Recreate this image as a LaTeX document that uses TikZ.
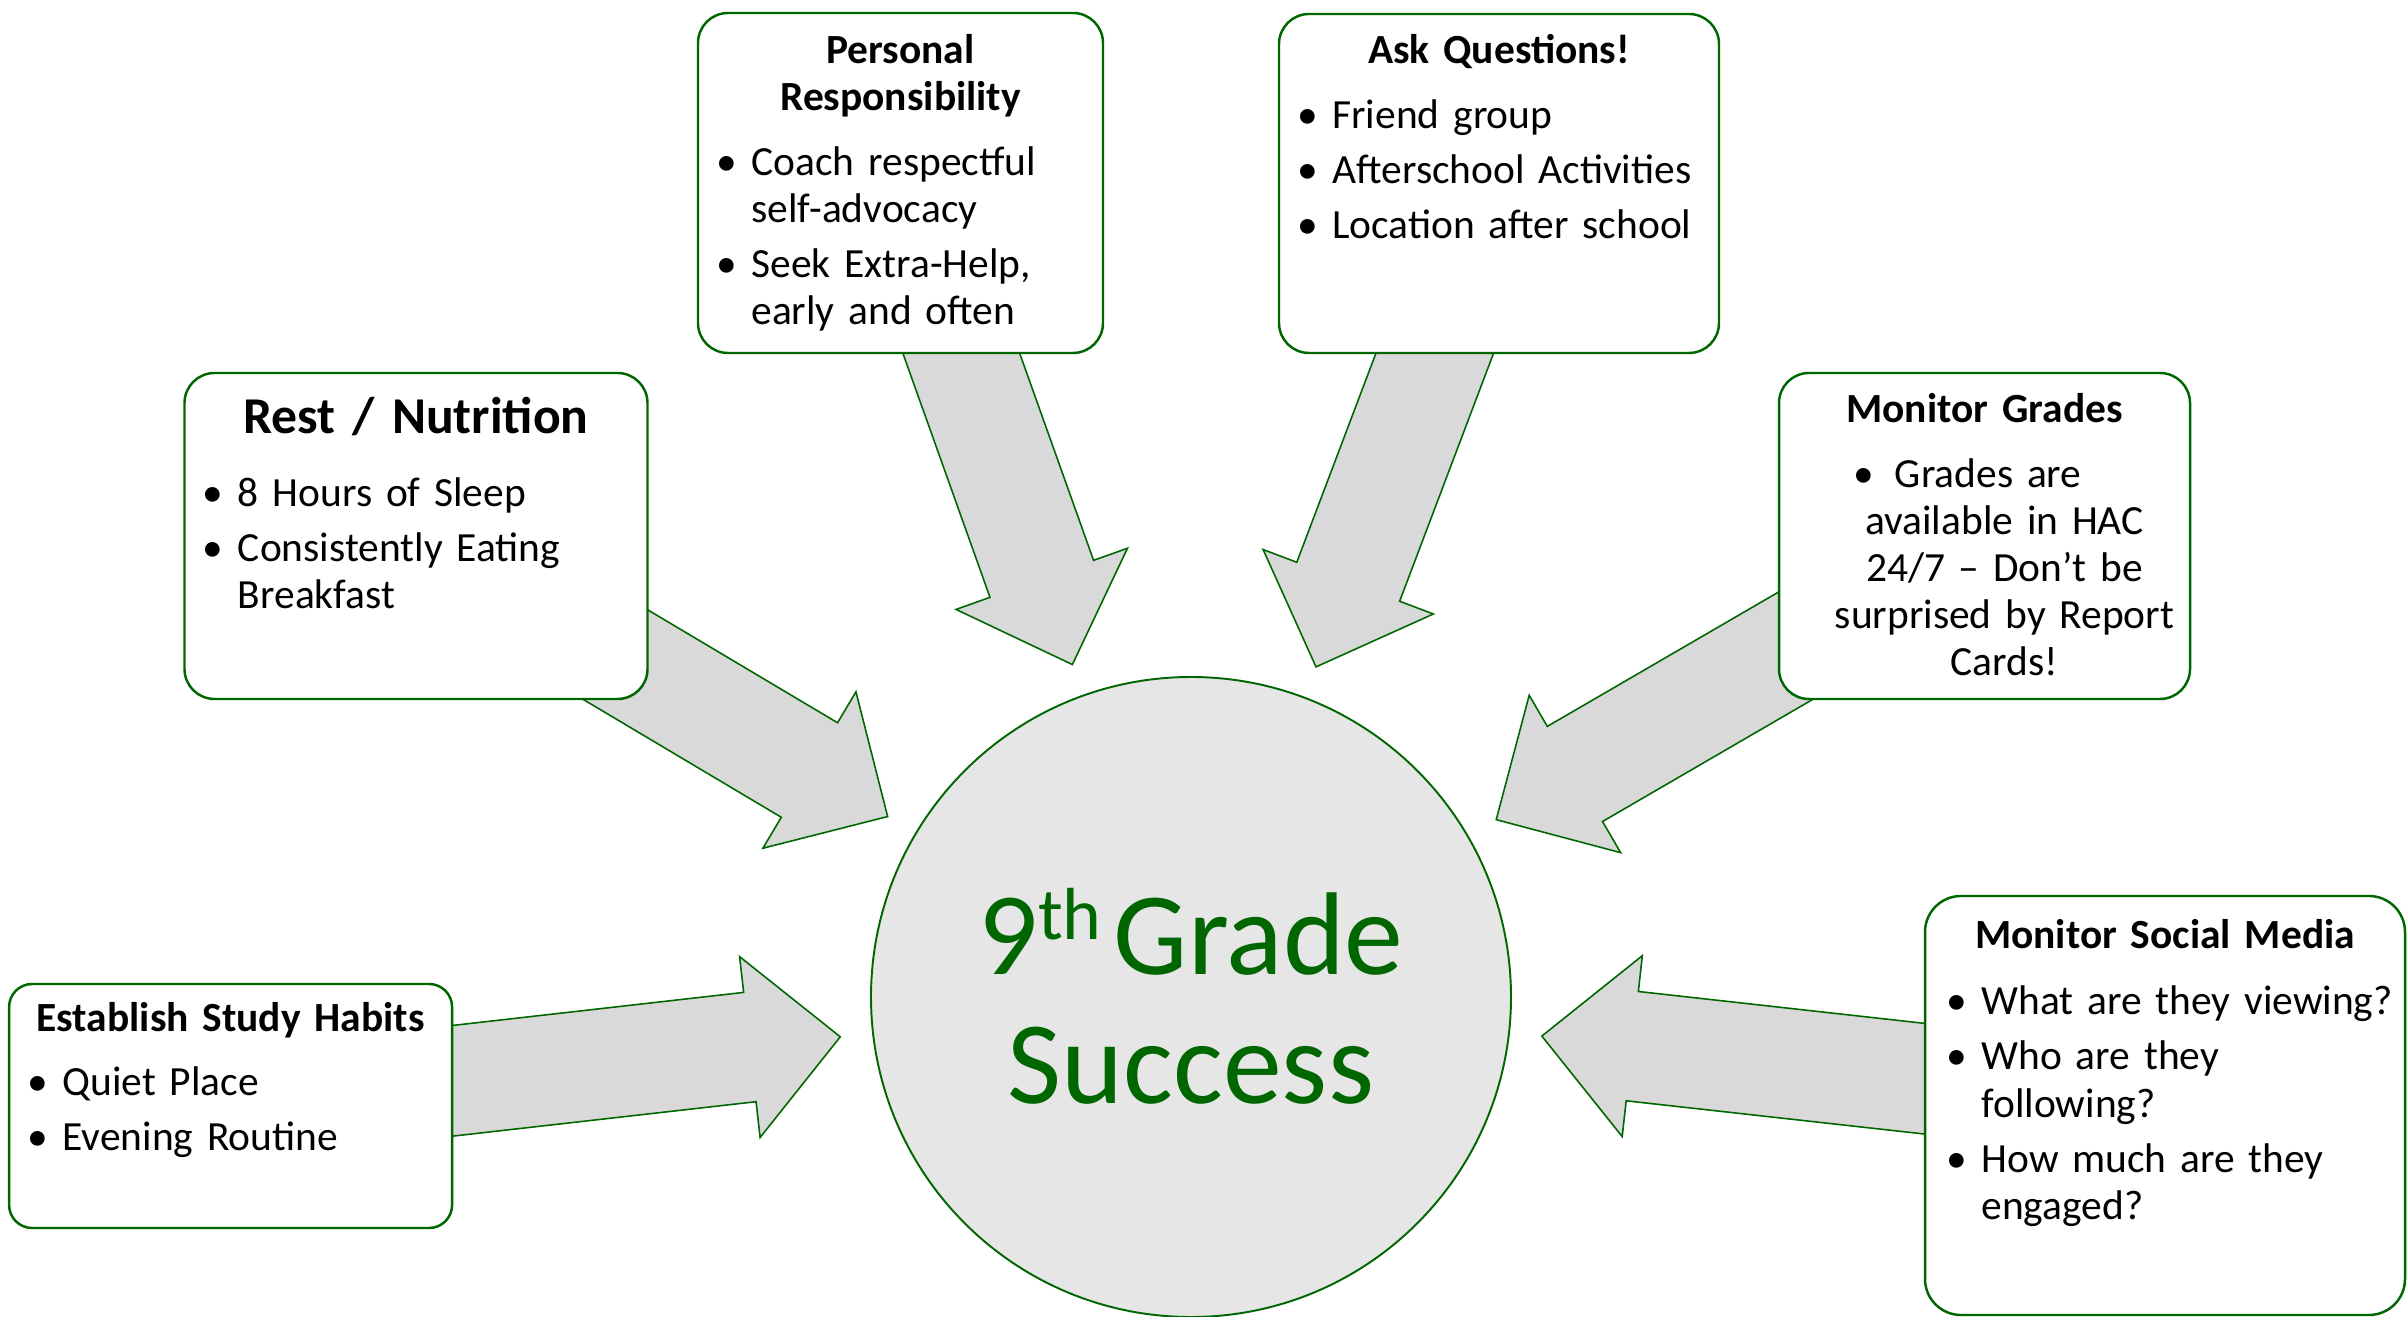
\documentclass[tikz,border=0pt]{standalone}
\usepackage{fontspec}
\setmainfont{Carlito}
\usetikzlibrary{calc,backgrounds}
\definecolor{leafgreen}{RGB}{0,102,0}
\definecolor{arrowgray}{HTML}{D9D9D9}
\definecolor{hubgray}{HTML}{E6E6E6}
\newcommand{\itm}[1]{\noindent\hangindent=0.35cm\hangafter=1\makebox[0.35cm][l]{\textbullet}#1\par\vspace{2.3pt}}
\newcommand{\bigarrow}[2]{%
  \coordinate (#2-h) at ($(#2)!0.91cm!(#1.center)$);
  \draw[fatarrow] (#2) -- ($(#2-h)!0.91cm!90:(#2)$) -- ($(#2-h)!0.55cm!90:(#2)$)
    -- ($(#1.center)!0.55cm!90:(#2)$) -- ($(#1.center)!0.55cm!-90:(#2)$)
    -- ($(#2-h)!0.55cm!-90:(#2)$) -- ($(#2-h)!0.91cm!-90:(#2)$) -- cycle;}

\begin{document}
\begin{tikzpicture}[
    card/.style={draw=leafgreen, line width=0.7pt, fill=white, rounded corners=0.3cm, inner sep=0pt},
    hub/.style={circle, draw=leafgreen, line width=0.55pt, fill=hubgray, inner sep=0pt, minimum size=6.4cm},
    fatarrow/.style={draw=leafgreen, line width=0.45pt, fill=arrowgray},
    head/.style={font=\fontsize{11.8}{13.4}\selectfont\bfseries, text width=4.6cm, align=center, inner sep=0pt, anchor=base},
    items/.style={font=\fontsize{11.8}{13.4}\selectfont, text width=#1, align=left, inner sep=0pt, anchor=base west}
  ]
  \useasboundingbox (0,0) rectangle (24.07,13.16);
  \node[card, minimum width=4.05cm, minimum height=3.40cm] (resp) at (9.005,11.33) {};
  \node[card, minimum width=4.40cm, minimum height=3.39cm] (quest) at (14.99,11.325) {};
  \node[card, minimum width=4.63cm, minimum height=3.26cm] (rest) at (4.16,7.80) {};
  \node[card, minimum width=4.11cm, minimum height=3.26cm] (grades) at (19.845,7.80) {};
  \node[card, minimum width=4.43cm, minimum height=2.44cm, rounded corners=0.23cm] (study) at (2.306,2.10) {};
  \node[card, minimum width=4.80cm, minimum height=4.19cm, rounded corners=0.36cm] (social) at (21.65,2.105) {};
  \node[hub] (hub) at (11.91,3.19) {};

  \foreach \b in {resp,quest,rest,grades,study,social}{
    \coordinate (\b-tip) at ($(hub.center)!3.53cm!(\b.center)$);
  }
  \begin{scope}[on background layer]
    \foreach \b in {resp,quest,rest,grades,study,social}{
      \bigarrow{\b}{\b-tip}
    }
  \end{scope}

  \node[head] (resp-title) at ($(resp.north)+(0,-0.52)$) {Personal\\Responsibility};
  \node[items=3.8cm] (resp-list) at ($(resp.north west)+(0.19,-1.634)$)
    {\itm{Coach respectful\newline self-advocacy}\itm{Seek Extra-Help,\newline early and often}};
  \node[head] (quest-title) at ($(quest.north)+(0,-0.51)$) {Ask Questions!};
  \node[items=4.2cm] (quest-list) at ($(quest.north west)+(0.19,-1.153)$)
    {\itm{Friend group}\itm{Afterschool Activities}\itm{Location after school}};
  \node[head, font=\fontsize{14.7}{17}\selectfont\bfseries] (rest-title) at ($(rest.north)+(0,-0.62)$) {Rest / Nutrition};
  \node[items=4.4cm] (rest-list) at ($(rest.north west)+(0.19,-1.347)$)
    {\itm{8 Hours of Sleep}\itm{Consistently Eating\newline Breakfast}};
  \node[head] (grades-title) at ($(grades.north)+(0,-0.51)$) {Monitor Grades};
  \node[head, font=\fontsize{11.8}{13.4}\selectfont, text width=4cm] (grades-list) at ($(grades.north)+(0.2,-1.153)$)
    {\textbullet\enspace Grades are\hspace*{0.74cm}\mbox{}\\available in HAC\\24/7 – Don’t be\\surprised by Report\\Cards!};
  \node[head] (study-title) at ($(study.north)+(0,-0.49)$) {Establish Study Habits};
  \node[items=4.2cm] (study-list) at ($(study.north west)+(0.19,-1.13)$)
    {\itm{Quiet Place}\itm{Evening Routine}};
  \node[head] (social-title) at ($(social.north)+(0,-0.54)$) {Monitor Social Media};
  \node[items=4.55cm] (social-list) at ($(social.north west)+(0.22,-1.20)$)
    {\itm{What are they viewing?}\itm{Who are they\newline following?}\itm{How much are they\newline engaged?}};

  \node[font=\fontsize{33.5}{36.7}\selectfont, text=leafgreen, text width=6.2cm, align=center, inner sep=0pt, anchor=base]
    (hub-text) at ($(hub.center)+(0,0.22)$) {9\raisebox{0.3em}{\fontsize{21}{21}\selectfont th}\hspace{0.12cm}Grade\\Success};
\end{tikzpicture}
\end{document}
